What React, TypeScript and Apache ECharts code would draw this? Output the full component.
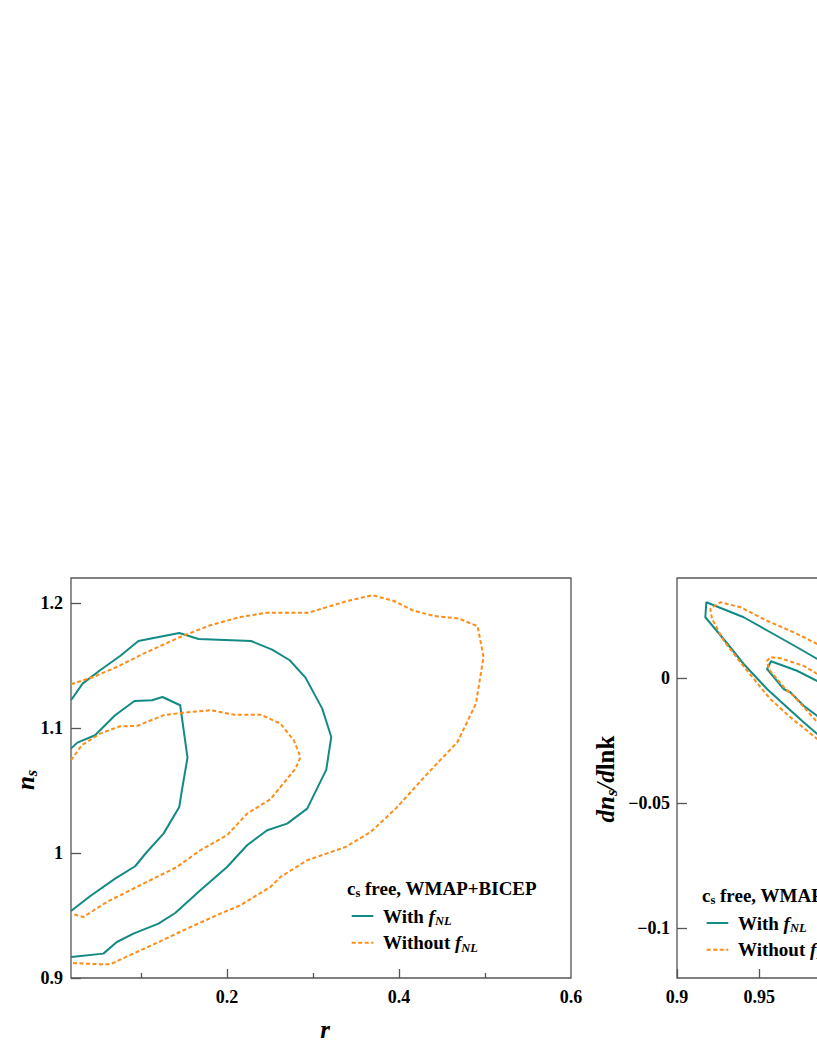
import React, { useEffect, useRef } from "react";
import * as echarts from "echarts";

// ---------- data ----------
// Left panel: r vs n_s
const leftXRange = [0.0185, 0.6];
const leftYRange = [0.9, 1.22];
const leftXLabels = [0.2, 0.4, 0.6];
const leftXMajorTicks = [0.2, 0.4];
const leftXMinorTicks = [0.1, 0.3, 0.5];
const leftYTicks = [0.9, 1, 1.1, 1.2];

const withFnl1Left: number[][] = [
  [0.0185, 1.0835], [0.0258, 1.0883], [0.0465, 1.0942], [0.0698, 1.1102], [0.0923, 1.1216],
  [0.1126, 1.1222], [0.1249, 1.1248], [0.1455, 1.1182], [0.154, 1.0763], [0.1475, 1.0502],
  [0.1444, 1.0368], [0.1261, 1.0155], [0.1067, 1.0008], [0.0931, 0.9894], [0.0698, 0.9795],
  [0.0406, 0.9654], [0.0185, 0.9536],
];
const withFnl2Left: number[][] = [
  [0.0185, 1.1222], [0.032, 1.1355], [0.0523, 1.1462], [0.0756, 1.1576], [0.0969, 1.1696],
  [0.1444, 1.176], [0.1669, 1.1712], [0.2279, 1.1696], [0.2524, 1.1627], [0.2729, 1.1542],
  [0.2912, 1.1403], [0.3107, 1.1155], [0.3212, 1.0928], [0.3154, 1.0667], [0.2932, 1.0355],
  [0.2699, 1.0235], [0.2466, 1.0182], [0.2233, 1.0062], [0.2, 0.9888], [0.1689, 0.9702],
  [0.1397, 0.952], [0.1202, 0.9435], [0.0911, 0.9355], [0.0718, 0.9288], [0.0561, 0.9195],
  [0.0185, 0.9168],
];
const withoutFnl1Left: number[][] = [
  [0.0185, 1.0742], [0.031, 1.0862], [0.0523, 1.0955], [0.0756, 1.1014], [0.0951, 1.1016],
  [0.1261, 1.1102], [0.1455, 1.112], [0.1805, 1.1142], [0.2077, 1.1107], [0.2388, 1.1107],
  [0.2621, 1.1035], [0.2776, 1.0902], [0.2854, 1.0768], [0.2796, 1.0675], [0.2621, 1.0528],
  [0.2504, 1.043], [0.2233, 1.0315], [0.2, 1.0142], [0.1689, 1.0022], [0.1417, 0.9888],
  [0.1106, 0.9782], [0.0873, 0.9702], [0.0601, 0.9608], [0.0328, 0.9488], [0.0185, 0.9515],
];
const withoutFnl2Left: number[][] = [
  [0.0185, 1.135], [0.0445, 1.1408], [0.0736, 1.1494], [0.1028, 1.1595], [0.1455, 1.1728],
  [0.1805, 1.1822], [0.2155, 1.1888], [0.2466, 1.1923], [0.2951, 1.1923], [0.3398, 1.2016],
  [0.369, 1.2062], [0.3941, 1.2016], [0.4156, 1.1942], [0.4408, 1.1896], [0.4699, 1.1875],
  [0.4913, 1.1814], [0.4983, 1.1568], [0.4894, 1.1195], [0.468, 1.0888], [0.433, 1.0635],
  [0.3961, 1.0355], [0.367, 1.0168], [0.3378, 1.0048], [0.2932, 0.9942], [0.2621, 0.9808],
  [0.2504, 0.9728], [0.2155, 0.9582], [0.1922, 0.9515], [0.1494, 0.9382], [0.1164, 0.9275],
  [0.064, 0.911], [0.0523, 0.911], [0.0185, 0.912],
];

// Right panel: n_s vs dn_s/dlnk
const rightXRange = [0.9, 1.2];
const rightYRange = [-0.12, 0.04];
const rightXTicks = [0.9, 0.95, 1, 1.05, 1.1, 1.15, 1.2];
const rightYTicks = [-0.1, -0.05, 0];

const withFnl1Right: number[][] = [
  [0.9852, -0.0012], [0.9729, 0.0029], [0.9571, 0.0067], [0.9547, 0.0036], [0.9648, -0.0044],
  [0.9688, -0.0057], [0.9769, -0.0111], [0.9852, -0.0152], [1.01, -0.03], [1.04, -0.046],
  [1.06, -0.055], [1.07, -0.052], [1.05, -0.036], [1.02, -0.018], [0.9852, -0.0012],
];
const withFnl2Right: number[][] = [
  [0.9852, 0.0076], [0.9729, 0.0123], [0.9567, 0.0183], [0.9405, 0.0243], [0.9178, 0.0303],
  [0.9172, 0.0243], [0.9283, 0.0156], [0.9405, 0.0056], [0.9547, -0.0044], [0.9668, -0.0117],
  [0.9769, -0.0177], [0.9852, -0.0224], [1.02, -0.044], [1.06, -0.068], [1.1, -0.088],
  [1.13, -0.098], [1.15, -0.094], [1.14, -0.078], [1.11, -0.055], [1.07, -0.033],
  [1.03, -0.013], [0.9852, 0.0076],
];
const withoutFnl1Right: number[][] = [
  [0.9852, 0.0016], [0.9769, 0.0049], [0.9628, 0.0079], [0.9567, 0.0083], [0.9547, 0.0069],
  [0.9557, 0.0036], [0.9658, -0.0044], [0.9708, -0.0071], [0.9852, -0.0177], [1.01, -0.033],
  [1.04, -0.049], [1.065, -0.058], [1.075, -0.054], [1.055, -0.037], [1.02, -0.016],
  [0.9852, 0.0016],
];
const withoutFnl2Right: number[][] = [
  [0.9852, 0.0136], [0.9708, 0.0183], [0.9547, 0.0229], [0.9385, 0.0283], [0.9263, 0.0303],
  [0.9202, 0.0276], [0.9213, 0.0236], [0.9283, 0.015], [0.9385, 0.0063], [0.9516, -0.0044],
  [0.9567, -0.0084], [0.9688, -0.0157], [0.9852, -0.0244], [1.02, -0.047], [1.06, -0.072],
  [1.1, -0.092], [1.135, -0.103], [1.16, -0.098], [1.15, -0.08], [1.12, -0.056],
  [1.08, -0.033], [1.03, -0.008], [0.9852, 0.0136],
];

const legendTitle = "c_s free, WMAP+BICEP";
const legendWith = "With f_NL";
const legendWithout = "Without f_NL";

// ---------- styles ----------
const FONT = '"Liberation Serif", "Times New Roman", serif';
const TEAL = "#138a85";
const ORANGE = "#ff8c14";
const AXIS = "#555555";

const fmt = (v: number) => (v < 0 ? "\u2212" + String(Math.abs(v)) : String(v));

const tickLabel = {
  fontFamily: FONT,
  fontWeight: "bold" as const,
  fontSize: 18,
  color: "#000",
};

const rich = {
  b: { fontFamily: FONT, fontWeight: "bold", fontSize: 19, lineHeight: 23, fill: "#000" },
  bs: { fontFamily: FONT, fontWeight: "bold", fontSize: 12.5, lineHeight: 12, verticalAlign: "bottom", fill: "#000" },
  i: { fontFamily: FONT, fontWeight: "bold", fontStyle: "italic", fontSize: 19, lineHeight: 23, fill: "#000" },
  is: { fontFamily: FONT, fontWeight: "bold", fontStyle: "italic", fontSize: 12.5, lineHeight: 12, verticalAlign: "bottom", fill: "#000" },
  I: { fontFamily: FONT, fontWeight: "bold", fontStyle: "italic", fontSize: 25, lineHeight: 29, fill: "#000" },
  IS: { fontFamily: FONT, fontWeight: "bold", fontStyle: "italic", fontSize: 16, lineHeight: 16, verticalAlign: "bottom", fill: "#000" },
  B: { fontFamily: FONT, fontWeight: "bold", fontSize: 25, lineHeight: 29, fill: "#000" },
};

function richLabel(s: string) {
  // "c_s free, ..." -> c + sub s ; "With f_NL" -> italic f + sub NL
  if (s.startsWith("c_s")) return "{b|c}{bs|s}{b|" + s.slice(3) + "}";
  const idx = s.indexOf("f_");
  return "{b|" + s.slice(0, idx) + "}{i|f}{is|" + s.slice(idx + 2) + "}";
}

function legendGraphics(dx: number, dy: number) {
  return [
    {
      type: "text", x: 347 + dx, y: 888.3 + dy,
      style: { text: richLabel(legendTitle), rich, align: "left", verticalAlign: "middle" },
    },
    {
      type: "line", shape: { x1: 351.7 + dx, y1: 916 + dy, x2: 373.3 + dx, y2: 916 + dy },
      style: { stroke: TEAL, lineWidth: 2 },
    },
    {
      type: "text", x: 383 + dx, y: 916 + dy,
      style: { text: richLabel(legendWith), rich, align: "left", verticalAlign: "middle" },
    },
    {
      type: "line", shape: { x1: 351.7 + dx, y1: 942.7 + dy, x2: 373.3 + dx, y2: 942.7 + dy },
      style: { stroke: ORANGE, lineWidth: 2, lineDash: [4, 2.5] },
    },
    {
      type: "text", x: 383 + dx, y: 942.6 + dy,
      style: { text: richLabel(legendWithout), rich, align: "left", verticalAlign: "middle" },
    },
  ];
}

function contour(name: string, data: number[][], idx: number, dashed: boolean) {
  return {
    name,
    type: "line",
    xAxisIndex: idx === 0 ? 0 : 2,
    yAxisIndex: idx,
    data,
    showSymbol: false,
    symbol: "none",
    smooth: false,
    clip: true,
    z: dashed ? 4 : 3,
    lineStyle: dashed
      ? { color: ORANGE, width: 2, type: [4, 2.5] }
      : { color: TEAL, width: 2, type: "solid" },
  };
}

export default function App() {
  const ref = useRef<HTMLDivElement>(null);
  useEffect(() => {
    if (!ref.current) return;
    const chart = echarts.init(ref.current, undefined, { renderer: "svg" });
    const gridCommon = {
      show: true,
      borderColor: AXIS,
      borderWidth: 1.3,
      backgroundColor: "transparent",
      containLabel: false,
      outerBoundsMode: "none",
    };
    const tickStyle = { color: AXIS, width: 1.3 };
    const noLine = { show: false, onZero: false };
    chart.setOption({
      animation: false,
      backgroundColor: "#ffffff",
      grid: [
        { ...gridCommon, left: 71, top: 578, width: 500, height: 400 },
        { ...gridCommon, left: 677, top: 578, width: 494, height: 400 },
      ],
      xAxis: [
        {
          gridIndex: 0, type: "value", min: leftXRange[0], max: leftXRange[1], position: "bottom",
          axisLine: noLine, splitLine: { show: false },
          axisTick: { show: true, inside: true, length: 9, customValues: leftXMajorTicks, lineStyle: tickStyle },
          axisLabel: { ...tickLabel, margin: 10, customValues: leftXLabels, formatter: fmt },
        },
        {
          gridIndex: 0, type: "value", min: leftXRange[0], max: leftXRange[1], position: "bottom",
          axisLine: noLine, splitLine: { show: false },
          axisTick: { show: true, inside: true, length: 5, customValues: leftXMinorTicks, lineStyle: tickStyle },
          axisLabel: { show: false },
        },
        {
          gridIndex: 1, type: "value", min: rightXRange[0], max: rightXRange[1], position: "bottom",
          axisLine: noLine, splitLine: { show: false },
          axisTick: { show: true, inside: true, length: 9, customValues: rightXTicks, lineStyle: tickStyle },
          axisLabel: { ...tickLabel, margin: 10, customValues: rightXTicks, formatter: fmt },
        },
      ],
      yAxis: [
        {
          gridIndex: 0, type: "value", min: leftYRange[0], max: leftYRange[1], position: "left",
          axisLine: noLine, splitLine: { show: false },
          axisTick: { show: true, inside: true, length: 10, customValues: leftYTicks, lineStyle: tickStyle },
          axisLabel: { ...tickLabel, margin: 8, customValues: leftYTicks, formatter: fmt },
        },
        {
          gridIndex: 1, type: "value", min: rightYRange[0], max: rightYRange[1], position: "left",
          axisLine: noLine, splitLine: { show: false },
          axisTick: { show: true, inside: true, length: 10, customValues: rightYTicks, lineStyle: tickStyle },
          axisLabel: { ...tickLabel, margin: 7, customValues: rightYTicks, formatter: fmt },
        },
      ],
      series: [
        contour("With fNL (1σ)", withFnl1Left, 0, false),
        contour("With fNL (2σ)", withFnl2Left, 0, false),
        contour("Without fNL (1σ)", withoutFnl1Left, 0, true),
        contour("Without fNL (2σ)", withoutFnl2Left, 0, true),
        contour("With fNL (1σ) ", withFnl1Right, 1, false),
        contour("With fNL (2σ) ", withFnl2Right, 1, false),
        contour("Without fNL (1σ) ", withoutFnl1Right, 1, true),
        contour("Without fNL (2σ) ", withoutFnl2Right, 1, true),
      ],
      graphic: [
        ...legendGraphics(0, 0),
        ...legendGraphics(355, 7),
        {
          type: "text", x: 325, y: 1029,
          style: { text: "{I|r}", rich, align: "center", verticalAlign: "middle" },
        },
        {
          type: "text", x: 25, y: 780, rotation: Math.PI / 2,
          style: { text: "{I|n}{IS|s}", rich, align: "center", verticalAlign: "middle" },
        },
        {
          type: "text", x: 605, y: 779, rotation: Math.PI / 2,
          style: { text: "{I|dn}{IS|s}{I|/d}{B|lnk}", rich, align: "center", verticalAlign: "middle" },
        },
      ],
    });
    return () => chart.dispose();
  }, []);
  return (
    <div
      ref={ref}
      style={{ position: "absolute", left: 0, top: 0, width: 817, height: 1058 }}
    />
  );
}
